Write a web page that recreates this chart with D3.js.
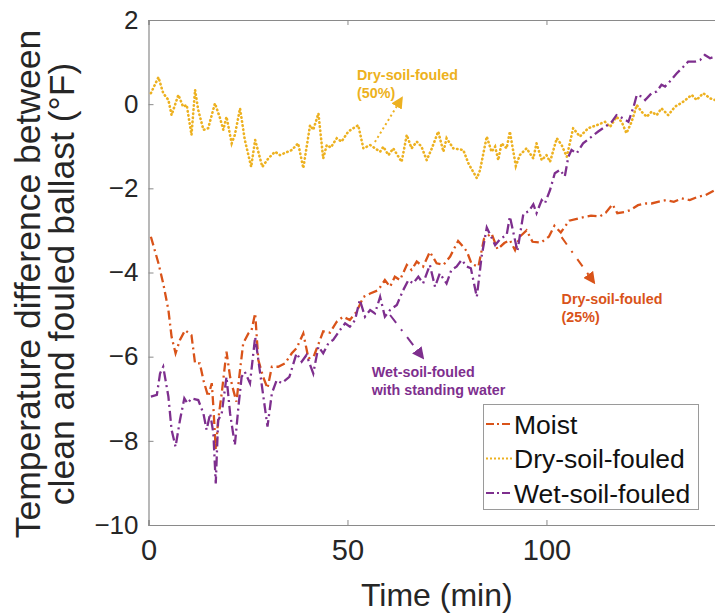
<!DOCTYPE html>
<html>
<head>
<meta charset="utf-8">
<script src="https://cdn.jsdelivr.net/npm/d3@7"></script>
<style>
  body { margin: 0; background: #fff; }
  svg text { font-family: "Liberation Sans", Arial, sans-serif; }
</style>
</head>
<body>
<div id="chart"></div>
<script>
// time (min) and temperature difference (°F)
const moistTime = [0.6, 2.5, 3.7, 5, 5.8, 6.8, 7.9, 9.2, 10.8, 11.7, 12.9, 13.8, 15, 15.9, 16.3, 16.9, 17.5, 18.4, 19.6, 20.5, 21.3, 22.1, 23, 23.8, 25.1, 25.9, 26.8, 27.6, 28.8, 29.9, 31, 32.6, 34.3, 36, 37.2, 38.9, 40.2, 41.5, 43.9, 45.6, 47.3, 48.9, 50.6, 52.3, 54, 55.7, 57.7, 59.4, 60.7, 61.9, 63.2, 64.9, 66.1, 67.4, 69, 70.7, 72.4, 74.1, 75.8, 77.8, 79.1, 80, 81.2, 82.9, 84.3, 86.2, 87.7, 89.4, 90.8, 92.1, 93.3, 95, 96.5, 98.6, 100.6, 102, 103.6, 105.7, 108.2, 111.2, 113.4, 114.9, 116.6, 117.8, 119.7, 121, 123, 125, 126.4, 128, 130, 132, 134, 136, 138.1, 140, 142.3];
const moistTemp = [-3.15, -3.78, -4.26, -4.89, -5.53, -5.92, -5.6, -5.37, -5.49, -6.16, -6.16, -6.56, -6.95, -6.63, -7.19, -8.22, -7.51, -6.87, -5.88, -6.48, -6.79, -7.07, -6.32, -5.68, -5.45, -5.37, -4.97, -6.08, -6.48, -6.75, -6.24, -6.24, -6.16, -5.92, -5.8, -5.45, -6.04, -6.0, -5.4, -5.43, -5.17, -5.05, -5.13, -4.93, -4.58, -4.5, -4.42, -4.18, -4.34, -4.1, -4.18, -3.82, -3.94, -3.74, -3.86, -3.51, -3.78, -3.82, -3.62, -3.25, -3.39, -3.5, -3.8, -3.86, -3.2, -3.07, -3.45, -3.3, -3.23, -3.47, -3.15, -3.0, -3.27, -3.29, -3.15, -2.89, -3.05, -2.77, -2.71, -2.65, -2.67, -2.58, -2.38, -2.59, -2.56, -2.52, -2.4, -2.36, -2.36, -2.32, -2.28, -2.32, -2.24, -2.28, -2.2, -2.16, -2.04];

const dryTime = [0.6, 2.5, 3.7, 5, 5.8, 7.5, 8.7, 9.6, 10.8, 11.7, 12.5, 13.8, 15, 16.7, 18, 18.8, 19.6, 20.9, 21.7, 23, 24.2, 25.8, 26.8, 28.6, 30.1, 31.8, 33, 36, 37.6, 38.9, 40.6, 41.4, 42.7, 43.9, 44.8, 45.8, 47.3, 48.5, 50.2, 51.5, 52.7, 54, 55.7, 58.2, 59, 60.3, 61.5, 63.6, 64.9, 66.1, 67.4, 68.6, 69.9, 71.2, 72.8, 74.1, 74.9, 76.6, 79.1, 80.4, 82.5, 83.3, 85, 86.2, 87.1, 87.9, 88.7, 90, 90.8, 92.3, 93.3, 95, 96.7, 97.5, 98.8, 100, 100.9, 102.6, 103.8, 105.1, 106.7, 108.4, 110.5, 112.6, 114.7, 116, 117.6, 118.9, 120.1, 121.4, 122.7, 123.9, 125.2, 126.4, 127.7, 128.9, 130.6, 132.3, 134.4, 136.5, 137.7, 139.4, 141.1, 142.3];
const dryTemp = [0.26, 0.64, 0.26, 0.1, -0.26, 0.22, -0.06, -0.02, -0.73, 0.34, -0.14, -0.61, -0.57, 0.02, -0.34, -0.61, -0.3, -0.93, -0.73, -0.1, -0.85, -1.49, -0.85, -1.49, -1.29, -1.13, -1.21, -1.09, -0.93, -1.52, -0.5, -0.61, -0.22, -1.29, -0.97, -1.03, -0.81, -0.89, -0.65, -0.57, -0.5, -1.05, -0.97, -1.13, -1.01, -1.21, -1.05, -1.37, -0.73, -1.05, -0.89, -1.01, -1.33, -1.05, -0.65, -1.13, -0.81, -1.05, -1.09, -1.41, -1.76, -1.57, -0.77, -1.13, -1.01, -1.33, -0.93, -1.05, -0.65, -1.47, -1.21, -1.05, -1.29, -0.93, -1.33, -1.21, -1.37, -0.81, -0.97, -1.25, -0.57, -0.77, -0.57, -0.5, -0.42, -0.54, -0.3, -0.42, -0.69, -0.42, -0.02, -0.18, -0.3, -0.18, -0.26, -0.1, -0.26, -0.06, 0.06, 0.22, 0.1, 0.26, 0.14, 0.1];

const wetTime = [0.6, 2.1, 2.9, 3.7, 5, 5.8, 6.8, 7.9, 9, 9.8, 10.8, 12.5, 13.8, 14.6, 15.5, 16.3, 16.9, 17.5, 18.4, 19.6, 20.5, 21.7, 22.6, 23.4, 24.2, 25.5, 26.8, 27.6, 28.4, 29.9, 31, 32.2, 33.5, 35.4, 37.2, 38.5, 39.7, 41.4, 42.7, 43.9, 45.2, 46.4, 48.1, 49.4, 50.6, 51.9, 53.1, 54.4, 55.7, 56.9, 58.2, 59.4, 60.7, 62.4, 64, 65.3, 66.5, 67.8, 69, 70.7, 72, 73.2, 74.9, 76.1, 77.4, 78.7, 80, 81, 82.5, 83.7, 85, 87.1, 88.5, 90, 90.8, 92.7, 94.2, 95.5, 96.7, 97.5, 98.8, 99.6, 100.9, 102.1, 103.4, 104.6, 105.5, 106.3, 107.6, 109.2, 111.4, 113, 114.7, 116.4, 117.6, 119.3, 120.6, 121.9, 122.7, 124, 124.8, 126.4, 127.7, 128.9, 129.8, 131, 132.7, 134.4, 135.6, 137.3, 138.6, 139.8, 141.1, 142.3];
const wetTemp = [-6.95, -6.91, -6.4, -6.24, -6.95, -7.74, -8.14, -7.51, -6.99, -7.11, -6.99, -7.03, -7.35, -7.74, -7.35, -7.82, -9.01, -7.51, -7.35, -6.48, -7.35, -8.1, -7.19, -6.48, -6.36, -6.63, -5.53, -6.08, -6.63, -7.66, -6.87, -6.56, -6.63, -6.48, -5.92, -6.12, -5.96, -6.4, -5.76, -5.92, -5.68, -5.6, -5.37, -5.21, -5.29, -5.13, -4.65, -5.05, -4.89, -4.97, -4.58, -5.05, -4.89, -4.77, -4.42, -4.18, -4.26, -4.1, -4.26, -3.82, -4.34, -4.02, -4.26, -3.94, -3.86, -3.7, -3.86, -3.9, -4.58, -3.62, -2.93, -3.35, -3.19, -3.11, -2.67, -3.49, -2.6, -2.55, -2.38, -2.59, -2.28, -2.36, -2.04, -1.64, -1.56, -1.72, -1.25, -1.09, -1.17, -0.93, -0.77, -0.65, -0.54, -0.42, -0.26, -0.34, -0.42, -0.06, 0.22, 0.18, 0.1, 0.26, 0.3, 0.46, 0.42, 0.54, 0.73, 0.89, 1.01, 1.01, 1.05, 1.17, 1.09, 1.13];

const seriesNames = ["Moist", "Dry-soil-fouled", "Wet-soil-fouled"];
const xTicks = [0, 50, 100];
const yTicks = [-10, -8, -6, -4, -2, 0, 2];

const W = 715, H = 614;
const plotLeft = 148.5, plotTop = 20, plotRight = 716, plotBottom = 525;

const svg = d3.select("#chart")
  .append("svg")
  .attr("width", W)
  .attr("height", H);

const x = d3.scaleLinear().domain([0, 142.6]).range([plotLeft, plotRight]);
const y = d3.scaleLinear().domain([-10, 2]).range([plotBottom, plotTop]);

const series = [
  { name: seriesNames[0], t: moistTime, v: moistTemp, color: "#D95319", dash: "9,4,2,4", cap: "butt" },
  { name: seriesNames[1], t: dryTime, v: dryTemp, color: "#EDB120", dash: "0.5,3.6", cap: "round" },
  { name: seriesNames[2], t: wetTime, v: wetTemp, color: "#7E2F8E", dash: "10,4,2,4", cap: "butt" }
];

const defs = svg.append("defs");
defs.append("clipPath").attr("id", "plot")
  .append("rect")
  .attr("x", plotLeft).attr("y", plotTop)
  .attr("width", plotRight - plotLeft).attr("height", plotBottom - plotTop);

// axes (box with inward ticks)
const gray = "#8a8a8a";
const txt = "#262626";

const gx = svg.append("g")
  .attr("transform", `translate(0,${plotBottom})`)
  .call(d3.axisBottom(x).tickValues(xTicks).tickSize(-5).tickPadding(14));
const gxTop = svg.append("g")
  .attr("transform", `translate(0,${plotTop})`)
  .call(d3.axisTop(x).tickValues(xTicks).tickSize(-5).tickFormat(""));
const gy = svg.append("g")
  .attr("transform", `translate(${plotLeft},0)`)
  .call(d3.axisLeft(y).tickValues(yTicks).tickSize(-5).tickPadding(10));

[gx, gxTop, gy].forEach(g => {
  g.select(".domain").attr("stroke", gray).attr("stroke-width", 1.2);
  g.selectAll(".tick line").attr("stroke", gray);
  g.selectAll(".tick text").attr("fill", txt).attr("font-family", "Liberation Sans, Arial, sans-serif");
});
gx.selectAll(".tick text").attr("font-size", 29);
gy.selectAll(".tick text").attr("font-size", 26);

svg.append("text")
  .attr("x", (plotLeft + 713) / 2 + 6)
  .attr("y", 606)
  .attr("text-anchor", "middle")
  .attr("font-size", 32)
  .attr("fill", txt)
  .text("Time (min)");

const yTitle = svg.append("text")
  .attr("transform", "translate(0,284) rotate(-90)")
  .attr("text-anchor", "middle")
  .attr("font-size", 35.5)
  .attr("fill", txt);
yTitle.append("tspan").attr("x", 0).attr("y", 40).text("Temperature difference between");
yTitle.append("tspan").attr("x", 0).attr("y", 74).text("clean and fouled ballast (°F)");

// lines
const line = d3.line()
  .x(d => x(d[0]))
  .y(d => y(d[1]));

const plot = svg.append("g").attr("clip-path", "url(#plot)");
series.forEach(s => {
  plot.append("path")
    .datum(s.t.map((t, i) => [t, s.v[i]]))
    .attr("fill", "none")
    .attr("stroke", s.color)
    .attr("stroke-width", s.cap === "round" ? 2.6 : 2.3)
    .attr("stroke-linecap", s.cap)
    .attr("stroke-dasharray", s.dash)
    .attr("d", line);
});

// annotations, placed in data coordinates
const notes = [
  { lines: ["Dry-soil-fouled", "(50%)"], color: "#EDB120", tx: 52.4, ty: 0.57,
    from: [56.9, -0.9], to: [63.6, 0.14], dash: "2,3" },
  { lines: ["Dry-soil-fouled", "(25%)"], color: "#D95319", tx: 103.8, ty: -4.75,
    from: [103.8, -3.16], to: [111.9, -4.23], dash: "9,8,2,8" },
  { lines: ["Wet-soil-fouled", "with standing water"], color: "#7E2F8E", tx: 56.1, ty: -6.48,
    from: [60.7, -5.01], to: [68.9, -6.02], dash: "10,8,2,8" }
];

notes.forEach((n, i) => {
  defs.append("marker")
    .attr("id", "arrow" + i)
    .attr("viewBox", "0 0 10 10")
    .attr("refX", 8).attr("refY", 5)
    .attr("markerWidth", 6).attr("markerHeight", 6)
    .attr("markerUnits", "strokeWidth")
    .attr("orient", "auto")
    .append("path")
    .attr("d", "M0,0 L10,5 L0,10 z")
    .attr("fill", n.color);

  svg.append("line")
    .attr("x1", x(n.from[0])).attr("y1", y(n.from[1]))
    .attr("x2", x(n.to[0])).attr("y2", y(n.to[1]))
    .attr("stroke", n.color)
    .attr("stroke-width", 2)
    .attr("stroke-dasharray", n.dash)
    .attr("marker-end", `url(#arrow${i})`);

  const t = svg.append("text")
    .attr("font-size", 14.3)
    .attr("font-weight", "bold")
    .attr("fill", n.color);
  n.lines.forEach((l, k) => {
    t.append("tspan")
      .attr("x", x(n.tx))
      .attr("y", y(n.ty) + k * 18)
      .text(l);
  });
});

// legend
const lg = svg.append("g");
lg.append("rect")
  .attr("x", 483.5).attr("y", 404.5)
  .attr("width", 215).attr("height", 105)
  .attr("fill", "#fff")
  .attr("stroke", "#9a9a9a")
  .attr("stroke-width", 1);

series.forEach((s, i) => {
  const cy = 424 + i * 34.5;
  lg.append("line")
    .attr("x1", 486).attr("x2", 513)
    .attr("y1", cy).attr("y2", cy)
    .attr("stroke", s.color)
    .attr("stroke-width", 2)
    .attr("stroke-dasharray", s.cap === "round" ? "2,2" : "8,3,2,3");
  lg.append("text")
    .attr("x", 514)
    .attr("y", cy + 9.5)
    .attr("font-size", 26.5)
    .attr("fill", "#111")
    .text(s.name);
});
</script>
</body>
</html>
